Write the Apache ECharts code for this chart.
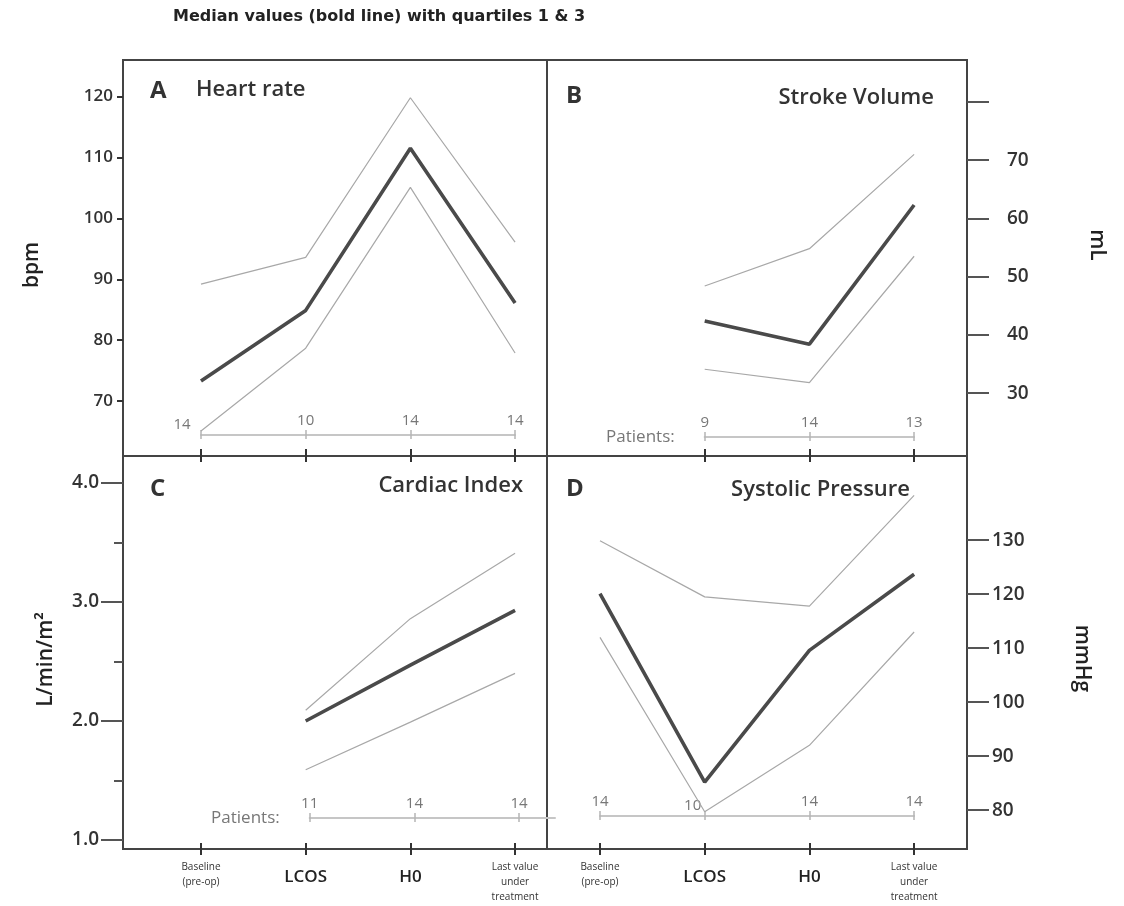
<!DOCTYPE html>
<html>
<head>
<meta charset="utf-8">
<script src="https://cdn.jsdelivr.net/npm/echarts@6/dist/echarts.min.js"></script>
<style>
html,body{margin:0;padding:0;background:#fff;}
#chart{width:1124px;height:906px;}
</style>
</head>
<body>
<div id="chart"></div>
<script>
// ---- data ----
const categories = ['Baseline\n(pre-op)', 'LCOS', 'H0', 'Last value\nunder\ntreatment'];

const hrMedian = [73.3, 84.9, 111.5, 86.1];
const hrQ1     = [65.1, 78.7, 105.1, 77.9];
const hrQ3     = [89.2, 93.6, 119.8, 96.1];
const hrN      = [14, 10, 14, 14];

const svMedian = [null, 42.4, 38.4, 62.3];
const svQ1     = [null, 34.1, 31.8, 53.5];
const svQ3     = [null, 48.4, 54.8, 71.0];
const svN      = [null, 9, 14, 13];

const ciMedian = [null, 2.00, 2.47, 2.93];
const ciQ1     = [null, 1.59, 1.99, 2.40];
const ciQ3     = [null, 2.09, 2.86, 3.41];
const ciN      = [null, 11, 14, 14];

const spMedian = [120.1, 85.2, 109.6, 123.7];
const spQ1     = [112.0, 79.7, 92.0, 113.0];
const spQ3     = [129.9, 119.5, 117.8, 138.3];
const spN      = [14, 10, 14, 14];

const hrTicks = [70, 80, 90, 100, 110, 120];
const svTicks = [30, 40, 50, 60, 70, 80];
const svLabels = [30, 40, 50, 60, 70];
const ciTicks = [1, 2, 3, 4];
const ciMinor = [1.5, 2.5, 3.5];
const spTicks = [80, 90, 100, 110, 120, 130];

// ---- helpers ----
const SANS = '"Open Sans", "DejaVu Sans", sans-serif';
const idxOf = arr => arr.map((v, i) => v == null ? null : i).filter(v => v != null);
const pts = arr => arr.map((v, i) => v == null ? null : [i, v]).filter(Boolean);

const L_MIN = -0.745, L_MAX = 3.305;
const R_MIN = -0.506, R_MAX = 3.505;
const TICK = {color: '#333', width: 2};
const FRAME = '#444';
const NOLINE = {show: false, onZero: false};

function xAx(grid, min, max, opts) {
  return Object.assign({
    type: 'value', gridIndex: grid, min: min, max: max,
    axisLine: NOLINE, splitLine: {show: false},
    axisLabel: {show: false}, axisTick: {show: false}
  }, opts);
}
function tk(values, inside, length) {
  return {show: true, inside: inside, length: length, customValues: values, lineStyle: TICK};
}
function catLabel(v) {
  const c = categories[Math.round(v)];
  if (c.indexOf('\n') >= 0) return c.split('\n').map(s => '{sm|' + s + '}').join('\n');
  return '{big|' + c + '}';
}
const catRich = {
  sm: {fontSize: 10, lineHeight: 15, color: '#333', fontFamily: SANS},
  big: {fontSize: 17, fontWeight: 600, lineHeight: 34, color: '#222', fontFamily: SANS}
};

function patAxes(grid, min, max, counts, shiftIdx, shiftPad, name) {
  const idx = idxOf(counts);
  const a = xAx(grid, min, max, {
    position: 'bottom',
    axisLine: {show: true, onZero: false, lineStyle: {color: '#c6c6c6', width: 2}},
    axisTick: {show: true, inside: true, length: 5, customValues: idx, lineStyle: {color: '#b5b5b5', width: 1.5}},
    axisLabel: {
      show: true, inside: true, margin: 2, customValues: idx,
      formatter: v => { const i = Math.round(v); return (i === shiftIdx ? '{s|' : '{n|') + counts[i] + '}'; },
      rich: {
        n: {fontSize: 15, lineHeight: 16, color: '#777', fontFamily: SANS, padding: [0, 0, 8, 0]},
        s: {fontSize: 15, lineHeight: 16, color: '#777', fontFamily: SANS, padding: [0, shiftPad, 0, 0]}
      }
    }
  });
  if (name) {
    a.name = name; a.nameLocation = 'start'; a.nameGap = 30;
    a.nameTextStyle = {fontSize: 17, color: '#777', fontFamily: SANS, verticalAlign: 'middle'};
  }
  const b = xAx(grid, min, max, {
    position: 'bottom',
    axisTick: {show: true, inside: false, length: 4, customValues: idx, lineStyle: {color: '#b5b5b5', width: 1.5}}
  });
  return [a, b];
}

const yName = (pad) => ({fontSize: 21, fontWeight: 600, color: '#222', fontFamily: SANS, padding: pad});
const lblStyle = (size) => ({color: '#333', fontSize: size, fontWeight: 600, fontFamily: SANS});

function panelSeries(xi, yi, med, q1, q3) {
  const thin = {color: '#a8a8a8', width: 1.2};
  return [
    {type: 'line', xAxisIndex: xi, yAxisIndex: yi, data: pts(q3), symbol: 'none', lineStyle: thin, silent: true},
    {type: 'line', xAxisIndex: xi, yAxisIndex: yi, data: pts(q1), symbol: 'none', lineStyle: thin, silent: true},
    {type: 'line', xAxisIndex: xi, yAxisIndex: yi, data: pts(med), symbol: 'none', lineStyle: {color: '#4a4a4a', width: 3.6}, silent: true}
  ];
}

const panelLetter = {fontSize: 24, fontWeight: 'bold', color: '#333', fontFamily: SANS};
const panelName = {fontSize: 22, fontWeight: 600, color: '#333', fontFamily: SANS};

const gridBase = {show: true, borderColor: FRAME, borderWidth: 2, backgroundColor: 'transparent', containLabel: false};

const option = {
  animation: false,
  backgroundColor: '#fff',
  title: [
    {text: 'Median values (bold line) with quartiles 1 & 3', left: 173, top: 9, padding: 0,
     textStyle: {fontSize: 16, fontWeight: 'bold', color: '#222', fontFamily: '"DejaVu Sans", sans-serif'}},
    {text: 'A', left: 150, top: 79, padding: 0, textStyle: panelLetter},
    {text: 'Heart rate', left: 196, top: 79, padding: 0, textStyle: panelName},
    {text: 'B', left: 566, top: 84, padding: 0, textStyle: panelLetter},
    {text: 'Stroke Volume', right: 190, top: 87, padding: 0, textStyle: panelName},
    {text: 'C', left: 150, top: 477, padding: 0, textStyle: panelLetter},
    {text: 'Cardiac Index', right: 601, top: 475, padding: 0, textStyle: panelName},
    {text: 'D', left: 566, top: 477, padding: 0, textStyle: panelLetter},
    {text: 'Systolic Pressure', right: 214, top: 479, padding: 0, textStyle: panelName}
  ],
  grid: [
    Object.assign({left: 123, top: 60, width: 424, height: 396}, gridBase),
    Object.assign({left: 547, top: 60, width: 420, height: 396}, gridBase),
    Object.assign({left: 123, top: 456, width: 424, height: 393}, gridBase),
    Object.assign({left: 547, top: 456, width: 420, height: 393}, gridBase),
    {left: 201, top: 434, width: 314, height: 1, show: false},
    {left: 704.7, top: 436, width: 209.4, height: 1, show: false},
    {left: 309.7, top: 817, width: 245.3, height: 1, show: false},
    {left: 600, top: 815, width: 314.1, height: 1, show: false}
  ],
  xAxis: [
    xAx(0, L_MIN, L_MAX, {position: 'bottom', axisTick: tk(idxOf(hrMedian), true, 7)}),
    xAx(1, R_MIN, R_MAX, {position: 'bottom', axisTick: tk(idxOf(svMedian), true, 7)}),
    xAx(2, L_MIN, L_MAX, {position: 'top', axisTick: tk(idxOf(hrMedian), true, 6)}),
    xAx(2, L_MIN, L_MAX, {position: 'bottom', axisTick: tk([0, 1, 2, 3], true, 6)}),
    xAx(2, L_MIN, L_MAX, {position: 'bottom', axisTick: tk([0, 1, 2, 3], false, 6),
      axisLabel: {show: true, customValues: [0, 1, 2, 3], formatter: catLabel, margin: 11, rich: catRich}}),
    xAx(3, R_MIN, R_MAX, {position: 'top', axisTick: tk(idxOf(svMedian), true, 6)}),
    xAx(3, R_MIN, R_MAX, {position: 'bottom', axisTick: tk([0, 1, 2, 3], true, 6)}),
    xAx(3, R_MIN, R_MAX, {position: 'bottom', axisTick: tk([0, 1, 2, 3], false, 6),
      axisLabel: {show: true, customValues: [0, 1, 2, 3], formatter: catLabel, margin: 11, rich: catRich}})
  ]
  .concat(patAxes(4, 0, 3, hrN, 0, 38, null))
  .concat(patAxes(5, 1, 3, svN, -1, 0, 'Patients:'))
  .concat(patAxes(6, 1, 3.343, ciN, -1, 0, 'Patients:'))
  .concat(patAxes(7, 0, 3, spN, 1, 24, null)),
  yAxis: [
    {type: 'value', gridIndex: 0, position: 'left', min: 61, max: 126,
     axisLine: NOLINE, splitLine: {show: false},
     axisTick: {show: true, length: 6, customValues: hrTicks, lineStyle: TICK},
     axisLabel: Object.assign({customValues: hrTicks, margin: 10}, lblStyle(17)),
     name: 'bpm', nameLocation: 'middle', nameRotate: 90, nameGap: 80, nameTextStyle: yName([0, 14, 0, 0])},
    {type: 'value', gridIndex: 1, position: 'right', min: 19.2, max: 87.2,
     axisLine: NOLINE, splitLine: {show: false},
     axisTick: {show: true, length: 22, customValues: svTicks, lineStyle: {color: '#555', width: 2}},
     axisLabel: Object.assign({customValues: svLabels, margin: 40}, lblStyle(19)),
     name: 'mL', nameLocation: 'middle', nameRotate: -90, nameGap: 119, nameTextStyle: yName([0, 26, 0, 0])},
    {type: 'value', gridIndex: 2, position: 'left', min: 0.924, max: 4.227,
     axisLine: NOLINE, splitLine: {show: false},
     axisTick: {show: true, length: 22, customValues: ciTicks, lineStyle: {color: '#555', width: 2}},
     axisLabel: Object.assign({customValues: ciTicks, margin: 24, formatter: v => v.toFixed(1)}, lblStyle(19)),
     name: 'L/min/m²', nameLocation: 'middle', nameRotate: 90, nameGap: 66, nameTextStyle: yName([0, 14, 0, 0])},
    {type: 'value', gridIndex: 2, position: 'left', min: 0.924, max: 4.227,
     axisLine: NOLINE, splitLine: {show: false}, axisLabel: {show: false},
     axisTick: {show: true, length: 9, customValues: ciMinor, lineStyle: {color: '#555', width: 2}}},
    {type: 'value', gridIndex: 3, position: 'right', min: 72.8, max: 145.6,
     axisLine: NOLINE, splitLine: {show: false},
     axisTick: {show: true, length: 22, customValues: spTicks, lineStyle: {color: '#555', width: 2}},
     axisLabel: Object.assign({customValues: spTicks, margin: 25}, lblStyle(19)),
     name: 'mmHg', nameLocation: 'middle', nameRotate: -90, nameGap: 104, nameTextStyle: yName([0, 0, 0, 12])},
    {type: 'value', gridIndex: 4, min: 0, max: 1, show: false},
    {type: 'value', gridIndex: 5, min: 0, max: 1, show: false},
    {type: 'value', gridIndex: 6, min: 0, max: 1, show: false},
    {type: 'value', gridIndex: 7, min: 0, max: 1, show: false}
  ],
  series: []
    .concat(panelSeries(0, 0, hrMedian, hrQ1, hrQ3))
    .concat(panelSeries(1, 1, svMedian, svQ1, svQ3))
    .concat(panelSeries(3, 2, ciMedian, ciQ1, ciQ3))
    .concat(panelSeries(6, 4, spMedian, spQ1, spQ3))
};

const chart = echarts.init(document.getElementById('chart'), null, {renderer: 'canvas'});
chart.setOption(option);
</script>
</body>
</html>
